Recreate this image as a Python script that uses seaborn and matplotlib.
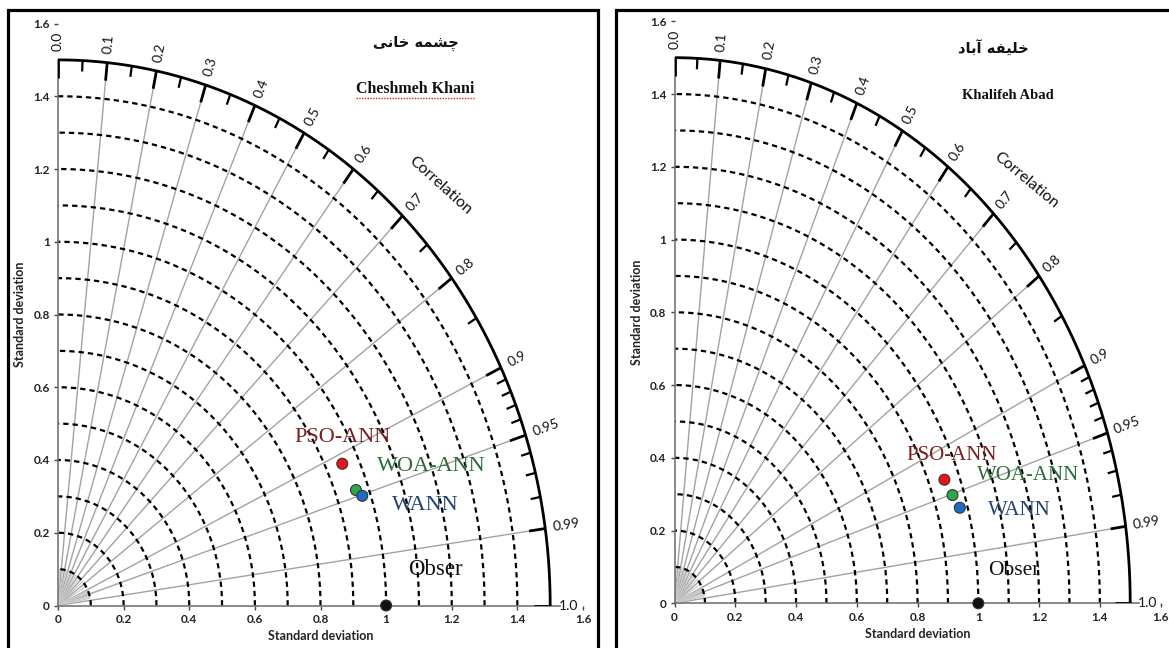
import numpy as np
import pandas as pd
import matplotlib
matplotlib.use("Agg")
import matplotlib.pyplot as plt
from matplotlib.patches import Rectangle
import seaborn as sns

# ---- data -------------------------------------------------------------
models = ["PSO-ANN", "WOA-ANN", "WANN", "Obser"]

# Cheshmeh Khani station: standard deviation and correlation of each model
cheshmeh_std = [0.950, 0.962, 0.975, 1.0]
cheshmeh_corr = [0.912, 0.944, 0.951, 1.0]

# Khalifeh Abad station
khalifeh_std = [0.951, 0.962, 0.975, 1.0]
khalifeh_corr = [0.934, 0.951, 0.963, 1.0]

std_ticks = [0, 0.2, 0.4, 0.6, 0.8, 1.0, 1.2, 1.4, 1.6]
std_tick_labels = ["0", "0.2", "0.4", "0.6", "0.8", "1", "1.2", "1.4", "1.6"]
std_circles = [0.1, 0.2, 0.3, 0.4, 0.5, 0.6, 0.7, 0.8, 0.9, 1.0, 1.1, 1.2, 1.3, 1.4]
corr_major = [0.0, 0.1, 0.2, 0.3, 0.4, 0.5, 0.6, 0.7, 0.8, 0.9, 0.95, 0.99, 1.0]
corr_major_labels = ["0.0", "0.1", "0.2", "0.3", "0.4", "0.5", "0.6", "0.7",
                     "0.8", "0.9", "0.95", "0.99", "1.0"]
corr_minor = [0.05, 0.15, 0.25, 0.35, 0.45, 0.55, 0.65, 0.75, 0.85,
              0.91, 0.92, 0.93, 0.94, 0.96, 0.97, 0.98]
r_max = 1.5

marker_colors = {"PSO-ANN": "#e8141b", "WOA-ANN": "#2aa84a",
                 "WANN": "#1f6cc4", "Obser": "#111111"}
text_colors = {"PSO-ANN": "#7a1f1f", "WOA-ANN": "#2d6a35",
               "WANN": "#22406e", "Obser": "#111111"}

# Persian station names written with presentation forms in visual order
fa_cheshmeh = "\uFBFD\uFEE7\uFE8E\uFEA7 \uFEEA\uFEE4\uFEB8\uFB7C"
fa_khalifeh = "\uFEA9\uFE8E\uFE91\uFE81 \uFEEA\uFED4\uFBFF\uFEE0\uFEA7"

sns.set_theme(style="white")
plt.rcParams["font.family"] = ["Lato", "DejaVu Sans"]

W, H = 1169, 648
fig = plt.figure(figsize=(W / 100, H / 100), dpi=100)


def px_axes(x0, x16, y0, y16):
    """Axes whose data 0 and 1.6 land on the given pixel positions."""
    return fig.add_axes([x0 / W, (H - y0) / H, (x16 - x0) / W, (y0 - y16) / H])


def display_angle(ax, th):
    p0 = ax.transData.transform((0, 0))
    p1 = ax.transData.transform((np.cos(th), np.sin(th)))
    return np.degrees(np.arctan2(p1[1] - p0[1], p1[0] - p0[0]))


def taylor(ax, std, corr, fa_title, en_title, fa_pos, en_pos, corr_pos,
           label_pos, label_size, en_size):
    ax.set_xlim(0, 1.6)
    ax.set_ylim(0, 1.6)
    ax.set_facecolor("none")

    # dashed standard-deviation circles
    t = np.linspace(0, np.pi / 2, 300)
    for r in std_circles:
        ax.plot(r * np.cos(t), r * np.sin(t), color="black", lw=1.6,
                ls=(0, (2.4, 1.8)), zorder=2)

    # correlation rays
    for c in corr_major[1:-1]:
        th = np.arccos(c)
        ax.plot([0, r_max * np.cos(th)], [0, r_max * np.sin(th)],
                color="#a2a2a2", lw=1.0, zorder=1)
    for c in corr_minor:
        th = np.arccos(c)
        ax.plot([0, 0.1 * np.cos(th)], [0, 0.1 * np.sin(th)],
                color="#c8c8c8", lw=0.8, zorder=1)

    # outer correlation arc with its ticks and labels
    ax.plot(r_max * np.cos(t), r_max * np.sin(t), color="black", lw=2.0, zorder=3)
    for c, lab in zip(corr_major, corr_major_labels):
        th = np.arccos(c)
        ax.plot([(r_max - 0.05) * np.cos(th), r_max * np.cos(th)],
                [(r_max - 0.05) * np.sin(th), r_max * np.sin(th)],
                color="black", lw=2.0, zorder=3, solid_capstyle="butt")
        ax.text(1.525 * np.cos(th), 1.525 * np.sin(th), lab,
                rotation=display_angle(ax, th), rotation_mode="anchor",
                ha="left", va="center", fontsize=10, color="#111111",
                clip_on=False)
    for c in corr_minor:
        th = np.arccos(c)
        ax.plot([(r_max - 0.03) * np.cos(th), r_max * np.cos(th)],
                [(r_max - 0.03) * np.sin(th), r_max * np.sin(th)],
                color="black", lw=1.6, zorder=3, solid_capstyle="butt")

    ax.text(*corr_pos, "Correlation", rotation=display_angle(ax, np.radians(45)) - 90,
            rotation_mode="anchor", ha="center", va="center", fontsize=11.5,
            color="#111111")

    # model points
    s = np.asarray(std)
    c = np.asarray(corr)
    df = pd.DataFrame({"model": models, "x": s * c, "y": s * np.sqrt(1 - c ** 2)})
    sns.scatterplot(data=df, x="x", y="y", hue="model", palette=marker_colors,
                    s=62, edgecolor="#333333", linewidth=0.8, legend=False,
                    ax=ax, zorder=6, clip_on=False)
    for m, (lx, ly), fs in zip(models, label_pos, label_size):
        ax.text(lx, ly, m, fontsize=fs, color=text_colors[m],
                family="Liberation Serif", ha="center", va="center", zorder=7)

    # axes styling
    ax.set_xticks(std_ticks)
    ax.set_xticklabels(std_tick_labels)
    ax.set_yticks(std_ticks)
    ax.set_yticklabels(std_tick_labels)
    ax.tick_params(axis="both", which="major", length=3, width=1.0,
                   color="#444444", labelsize=8.5, pad=3,
                   left=True, bottom=True)
    for lab in ax.get_xticklabels() + ax.get_yticklabels():
        lab.set_fontweight("bold")
        lab.set_color("#222222")
    for side in ("top", "right"):
        ax.spines[side].set_visible(False)
    for side in ("left", "bottom"):
        ax.spines[side].set_color("#6a6a6a")
        ax.spines[side].set_linewidth(1.1)
    ax.spines["left"].set_bounds(0, r_max)
    ax.spines["bottom"].set_bounds(0, 1.53)
    ax.set_xlabel("Standard deviation", fontsize=9, fontweight="bold",
                  color="#222222", labelpad=4)
    ax.set_ylabel("Standard deviation", fontsize=9, fontweight="bold",
                  color="#222222", labelpad=5)
    ax.grid(False)

    # station names
    ax.text(*fa_pos, fa_title, family="DejaVu Sans", fontweight="bold",
            fontsize=10.5, ha="center", va="center", color="#111111")
    en = ax.text(*en_pos, en_title, family="Liberation Serif", fontweight="bold",
                 fontsize=en_size, ha="center", va="center", color="#111111")
    return en


ax1 = px_axes(58, 583, 605.5, 23.5)
en1 = taylor(ax1, cheshmeh_std, cheshmeh_corr, fa_cheshmeh, "Cheshmeh Khani",
             (1.09, 1.545), (1.09, 1.42), (1.165, 1.155),
             [(0.866, 0.463), (1.137, 0.383), (1.119, 0.276), (1.149, 0.098)],
             [16, 16, 16, 16.5], 11.5)

ax2 = px_axes(674.6, 1160.6, 603.3, 21.3)
taylor(ax2, khalifeh_std, khalifeh_corr, fa_khalifeh, "Khalifeh Abad",
       (1.05, 1.525), (1.097, 1.396), (1.158, 1.163),
       [(0.912, 0.407), (1.163, 0.352), (1.136, 0.256), (1.116, 0.089)],
       [15, 15, 15, 15.5], 10.5)

# panel frames (the second one runs off the right edge)
for x0, x1 in ((8, 598), (616, 1180)):
    fig.add_artist(Rectangle((x0 / W, -0.05), (x1 - x0) / W, 1.05 - 10 / H,
                             transform=fig.transFigure, fill=False,
                             edgecolor="black", lw=2.3))

# red dotted spell-check underline beneath the Latin station name
fig.canvas.draw()
bb = en1.get_window_extent().transformed(fig.transFigure.inverted())
fig.add_artist(plt.Line2D([bb.x0, bb.x1], [bb.y0 - 1 / H, bb.y0 - 1 / H],
                          transform=fig.transFigure, color="#e02020",
                          lw=1.0, ls=(0, (1, 1))))

fig.savefig("out.png", dpi=100)
